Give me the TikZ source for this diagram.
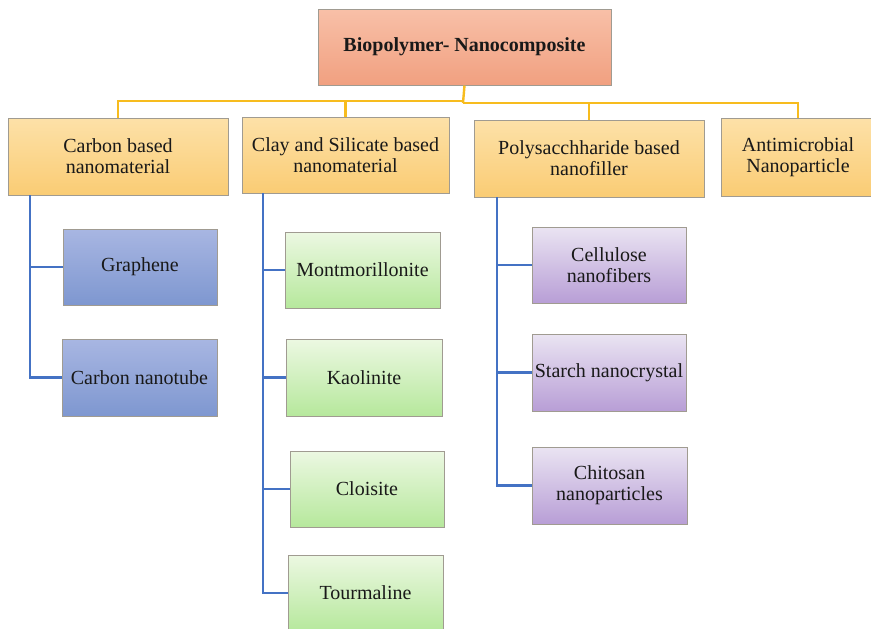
\documentclass[tikz,border=0pt]{standalone}
\usepackage{fontspec}
\setmainfont{Liberation Serif}
\usetikzlibrary{shadows}
\definecolor{ylwline}{RGB}{247,188,30}
\definecolor{blueline}{RGB}{68,114,196}
\definecolor{boxedge}{RGB}{160,155,145}
\tikzset{
  basebox/.style={rectangle, draw=boxedge, line width=1pt, align=center,
    text=black!90, font=\fontsize{20}{21}\selectfont,
    inner sep=2pt, minimum height=76pt,
    drop shadow={shadow xshift=1pt, shadow yshift=-1pt, opacity=0.18, fill=black}},
  rootbox/.style={basebox, top color={rgb,255:red,248;green,192;blue,168},
    bottom color={rgb,255:red,241;green,160;blue,128}, font=\bfseries\fontsize{20}{21}\selectfont},
  catbox/.style={basebox, top color={rgb,255:red,253;green,225;blue,168},
    bottom color={rgb,255:red,250;green,204;blue,116}},
  bluebox/.style={basebox, minimum width=154pt, top color={rgb,255:red,168;green,182;blue,226},
    bottom color={rgb,255:red,126;green,151;blue,208}},
  greenbox/.style={basebox, minimum width=154pt, top color={rgb,255:red,236;green,248;blue,226},
    bottom color={rgb,255:red,182;green,232;blue,156}},
  purplebox/.style={basebox, minimum width=154pt, top color={rgb,255:red,234;green,228;blue,242},
    bottom color={rgb,255:red,184;green,158;blue,214}},
  ycon/.style={draw=ylwline, line width=2.4pt},
  bcon/.style={draw=blueline, line width=2.4pt},
}
\begin{document}
\begin{tikzpicture}[x=1pt,y=-1pt]
\useasboundingbox[fill=white] (0,0) rectangle (871,629);

% root
\node[rootbox, minimum width=293pt] (root) at (464.5,47) {Biopolymer- Nanocomposite};

% categories
\node[catbox, minimum width=220pt, minimum height=77pt] (carbon) at (118,156.5) {Carbon based\\nanomaterial};
\node[catbox, minimum width=207pt] (clay) at (345.5,155) {Clay and Silicate based\\nanomaterial};
\node[catbox, minimum width=230pt, minimum height=77pt] (poly) at (589,158.5) {Polysacchharide based\\nanofiller};
\node[catbox, minimum width=154pt, minimum height=78pt] (anti) at (798,157) {Antimicrobial\\Nanoparticle};

% carbon group
\node[bluebox] (graphene) at (140,267) {Graphene};
\node[bluebox, minimum width=155pt, minimum height=77pt] (cnt) at (139.5,377.5) {Carbon nanotube};

% clay group
\node[greenbox, minimum width=155pt] (mont) at (362.5,270) {Montmorillonite};
\node[greenbox, minimum width=156pt, minimum height=77pt] (kaol) at (364,377.5) {Kaolinite};
\node[greenbox] (clois) at (367,489) {Cloisite};
\node[greenbox, minimum width=155pt] (tour) at (365.5,593) {Tourmaline};

% polysaccharide group
\node[purplebox] (cell) at (609,265) {Cellulose\\nanofibers};
\node[purplebox, minimum height=77pt] (starch) at (609,372.5) {Starch nanocrystal};
\node[purplebox, minimum width=155pt, minimum height=77pt] (chit) at (609.5,485.5) {Chitosan\\nanoparticles};

% root to categories
\coordinate (hubL) at (463,101);
\coordinate (hubR) at (463,103);
\draw[ycon] (root.south) -- (hubR);
\draw[ycon] (hubL) -| (carbon.north);
\draw[ycon] (hubL) -| (clay.north);
\draw[ycon] (hubR) -| (poly.north);
\draw[ycon] (hubR) -| (anti.north);

% category buses
\coordinate (cbus) at (30,195);
\coordinate (sbus) at (263,193);
\coordinate (pbus) at (497,197);
\draw[bcon] (cbus) |- (graphene.west);
\draw[bcon] (cbus) |- (cnt.west);
\draw[bcon] (sbus) |- (mont.west);
\draw[bcon] (sbus) |- (kaol.west);
\draw[bcon] (sbus) |- (clois.west);
\draw[bcon] (sbus) |- (tour.west);
\draw[bcon] (pbus) |- (cell.west);
\draw[bcon] (pbus) |- (starch.west);
\draw[bcon] (pbus) |- (chit.west);
\end{tikzpicture}
\end{document}
